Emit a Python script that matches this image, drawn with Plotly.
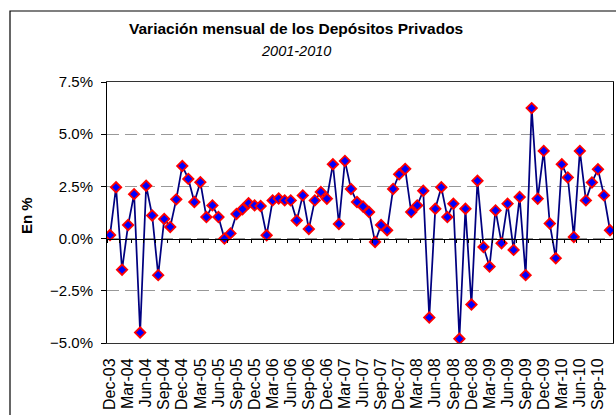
import plotly.graph_objects as go

# Monthly categories Dec-03 .. Nov-10 (84 points)
months = ["Jan", "Feb", "Mar", "Apr", "May", "Jun", "Jul", "Aug", "Sep", "Oct", "Nov", "Dec"]
categories = []
y, m = 2003, 11
for _ in range(84):
    categories.append(f"{months[m]}-{str(y)[2:]}")
    m += 1
    if m == 12:
        m = 0
        y += 1

values = [
    0.17, 2.46, -1.49, 0.65, 2.13, -4.50, 2.53, 1.11, -1.75, 0.94,
    0.56, 1.88, 3.48, 2.86, 1.75, 2.70, 1.03, 1.59, 1.03, 0.00,
    0.25, 1.18, 1.41, 1.69, 1.59, 1.56, 0.16, 1.83, 1.92, 1.83,
    1.83, 0.87, 2.07, 0.46, 1.83, 2.23, 1.91, 3.56, 0.70, 3.72,
    2.38, 1.75, 1.54, 1.27, -0.16, 0.65, 0.40, 2.38, 3.08, 3.34,
    1.27, 1.59, 2.29, -3.78, 1.43, 2.46, 1.03, 1.67, -4.80, 1.43,
    -3.16, 2.77, -0.40, -1.34, 1.35, -0.22, 1.67, -0.54, 1.99, -1.75,
    6.25, 1.91, 4.20, 0.72, -0.94, 3.56, 2.93, 0.08, 4.20, 1.83,
    2.69, 3.32, 2.07, 0.40,
]

tick_labels = categories[::3]
tick_positions = list(range(0, len(categories), 3))
x_idx = list(range(len(categories)))

title_text = "<b>Variación mensual de los Depósitos Privados</b>"
subtitle_text = "<i>2001-2010</i>"
y_title = "<b>En %</b>"

FONT = "Liberation Sans, Arial, sans-serif"

fig = go.Figure()
fig.add_trace(go.Scatter(
    x=x_idx, y=values, mode="lines+markers",
    line=dict(color="#000080", width=1.75),
    marker=dict(symbol="diamond", size=8, color="#0000FF",
                line=dict(color="#FF0000", width=1.8)),
    hoverinfo="skip", showlegend=False,
))
# invisible trace for the zero-line axis
fig.add_trace(go.Scatter(x=[x_idx[0]], y=[0], xaxis="x2", mode="markers",
                         marker=dict(opacity=0), showlegend=False, hoverinfo="skip"))

fig.update_layout(
    width=616, height=415,
    margin=dict(l=107, r=3, t=82, b=72),
    paper_bgcolor="white", plot_bgcolor="white",
    font=dict(family=FONT, size=13, color="black"),
    xaxis=dict(
        range=[-0.5, len(categories) - 0.5],
        tickmode="array", tickvals=tick_positions, ticktext=tick_labels,
        tickangle=-90, ticks="outside", ticklen=8, tickcolor="rgba(0,0,0,0)",
        showgrid=False, zeroline=False,
        showline=True, linecolor="#333333", linewidth=1, mirror=True,
        tickfont=dict(size=16),
    ),
    xaxis2=dict(
        overlaying="x", anchor="free", position=0.4,
        range=[-0.5, len(categories) - 0.5],
        tick0=-0.5, dtick=2, ticks="outside", ticklen=3, tickcolor="black",
        showticklabels=False, showgrid=False, zeroline=False,
        showline=True, linecolor="black", linewidth=1,
    ),
    yaxis=dict(
        range=[-5, 7.5], dtick=2.5, tick0=0, tickformat=".1f", ticksuffix="%",
        ticks="outside", ticklen=5, tickcolor="black", ticklabelstandoff=5,
        showgrid=True, gridcolor="#999999", griddash="12px,6px", gridwidth=1,
        zeroline=False, showline=True, linecolor="black", linewidth=1, mirror=True,
        tickfont=dict(size=15),
    ),
    shapes=[dict(type="rect", xref="paper", yref="paper", layer="above",
                 x0=(10 - 107) / 506, x1=(630 - 107) / 506,
                 y0=(343 - 430) / 261, y1=(343 - 11) / 261,
                 line=dict(color="black", width=1.2), fillcolor="rgba(0,0,0,0)")],
    annotations=[
        dict(text=title_text, xref="paper", yref="paper",
             x=(296 - 107) / 506, y=(343 - 28) / 261, showarrow=False,
             xanchor="center", yanchor="middle", font=dict(size=15.5)),
        dict(text=subtitle_text, xref="paper", yref="paper",
             x=(296 - 107) / 506, y=(343 - 51) / 261, showarrow=False,
             xanchor="center", yanchor="middle", font=dict(size=14.5)),
        dict(text=y_title, xref="paper", yref="paper",
             x=(26 - 107) / 506, y=(343 - 216) / 261, showarrow=False,
             textangle=-90, xanchor="center", yanchor="middle", font=dict(size=15)),
    ],
)

fig.write_html("out.html", config={"displayModeBar": False},
               post_script="document.body.style.margin='0';document.body.style.padding='0';")
